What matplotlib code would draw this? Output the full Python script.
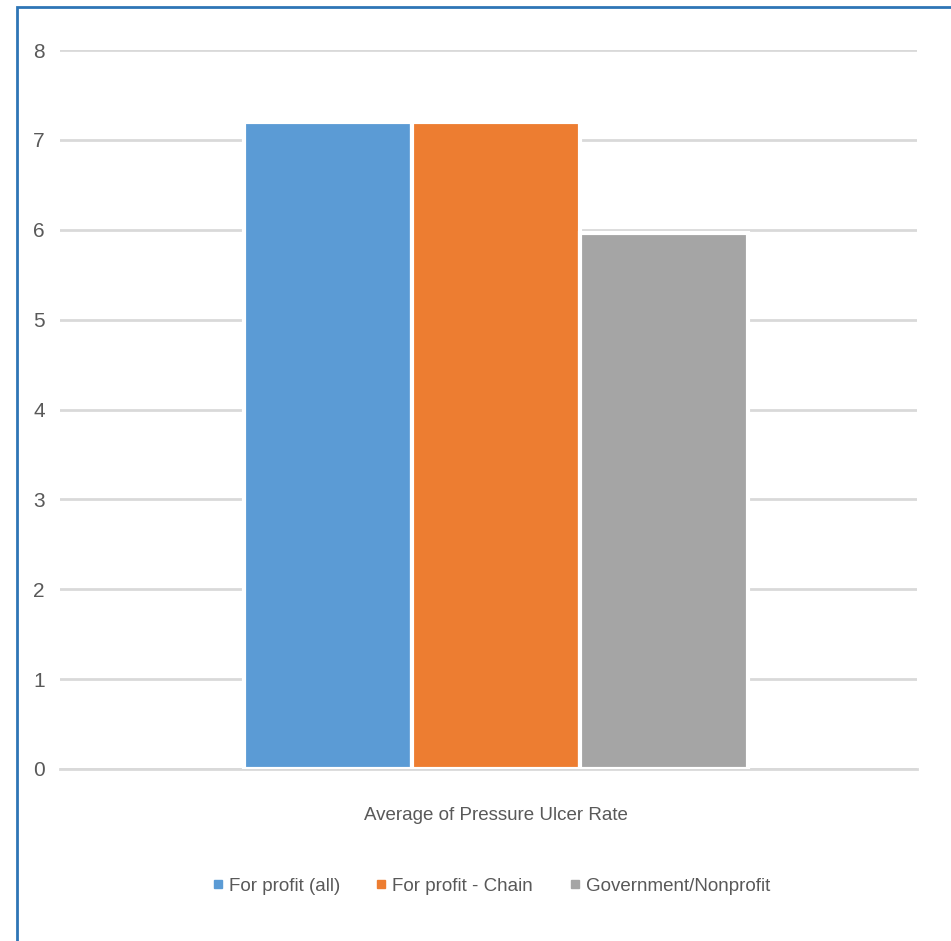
import matplotlib
matplotlib.use("Agg")
import matplotlib.pyplot as plt
from matplotlib.patches import Rectangle
from matplotlib.lines import Line2D

# data
series = ["For profit (all)", "For profit - Chain", "Government/Nonprofit"]
values = [7.2, 7.2, 5.96]
category = "Average of Pressure Ulcer Rate"
yticks = [0, 1, 2, 3, 4, 5, 6, 7, 8]
colors = ["#5b9bd5", "#ed7d31", "#a5a5a5"]

plt.rcParams["font.family"] = ["Liberation Sans", "DejaVu Sans"]
text_color = "#595959"

W, H = 951, 941
fig = plt.figure(figsize=(W / 100, H / 100), dpi=100)
fig.patch.set_facecolor("white")

# outer blue border (chart area frame)
fig.patches.append(Rectangle((17 / W, -0.1), 1.2, 1 - 7 / H + 0.1,
                             transform=fig.transFigure, fill=False,
                             edgecolor="#2e75b6", linewidth=2))

ax = fig.add_axes([60 / W, 1 - 769 / H, (917 - 60) / W, (769 - 50) / H])
ax.set_facecolor("none")

offsets = [-1, 0, 1]
for off, v, c in zip(offsets, values, colors):
    ax.bar(off, v, width=1.0, color=c, edgecolor="white", linewidth=3, zorder=3)

ax.set_xlim(-2.595, 2.505)
ax.set_ylim(0, 8)
ax.set_yticks(yticks)
ax.set_yticklabels([str(t) for t in yticks], fontsize=15, color=text_color)
ax.tick_params(axis="y", length=0, pad=11)
ax.set_xticks([])
ax.yaxis.grid(True, color="#d9d9d9", linewidth=2, zorder=0)
ax.axhline(0, color="#d9d9d9", linewidth=2, zorder=0, clip_on=False)
ax.set_axisbelow(True)
for s in ax.spines.values():
    s.set_visible(False)

fig.text(496 / W, 1 - 815 / H, category, ha="center", va="center",
         fontsize=13.5, color=text_color)

handles = [Line2D([], [], marker="s", linestyle="none", markersize=5.5,
                  markerfacecolor=c, markeredgecolor=c) for c in colors]
fig.legend(handles, series, loc="center", bbox_to_anchor=(490 / W, 1 - 886 / H),
           ncol=3, frameon=False, fontsize=13.5, labelcolor=text_color,
           handletextpad=0.2, columnspacing=1.8, handlelength=0.8)

fig.savefig("out.png", dpi=100, facecolor="white")
